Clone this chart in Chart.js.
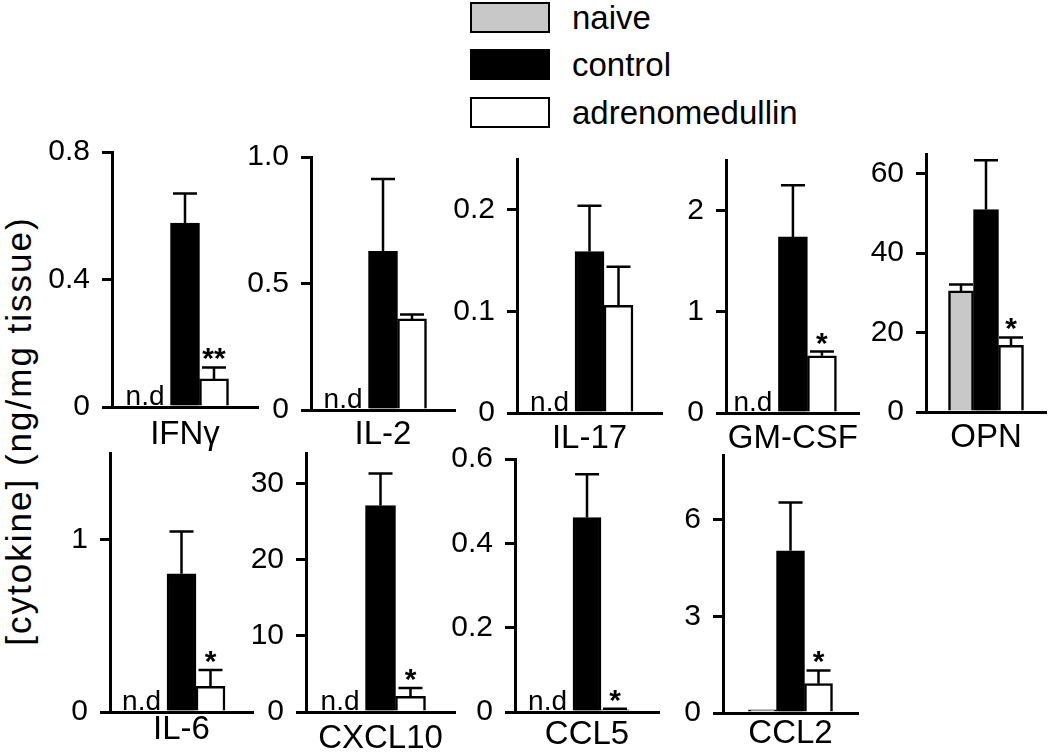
<!DOCTYPE html>
<html>
<head>
<meta charset="utf-8">
<script src="https://cdn.jsdelivr.net/npm/chart.js@4.4.1/dist/chart.umd.min.js"></script>
<style>
  body { margin: 0; background: #fff; width: 1050px; height: 752px; overflow: hidden; position: relative;
         font-family: "Liberation Sans", Arial, sans-serif; color: #000; }
  canvas { position: absolute; }
  .key { position: absolute; left: 470px; width: 80px; height: 31px; box-sizing: border-box; border: 2.5px solid #000; }
  .keytext { position: absolute; left: 572px; font-size: 33px; line-height: 31px; }
  #ytitle { position: absolute; left: 19px; top: 431px; white-space: nowrap; font-size: 35px; letter-spacing: 2px;
            transform: translate(-50%, -50%) rotate(-90deg); }
</style>
</head>
<body>
<div id="legend"></div>
<div id="ytitle">[cytokine] (ng/mg tissue)</div>
<script>
const cytokines = ['IFNγ', 'IL-2', 'IL-17', 'GM-CSF', 'OPN', 'IL-6', 'CXCL10', 'CCL5', 'CCL2'];
const groups = ['naive', 'control', 'adrenomedullin'];
const groupColors = ['#c8c8c8', '#000000', '#ffffff'];

// means and SEM (null = not detected)
const naive = [null, null, null, null, 30.5, null, null, null, 0.1];
const naiveSem = [null, null, null, null, 1.6, null, null, null, 0];
const control = [0.577, 0.627, 0.159, 1.74, 51, 0.80, 27.1, 0.461, 5.03];
const controlSem = [0.093, 0.286, 0.045, 0.51, 12.4, 0.245, 4.2, 0.103, 1.5];
const adm = [0.088, 0.36, 0.106, 0.565, 16.8, 0.148, 2.06, 0.005, 0.91];
const admSem = [0.036, 0.017, 0.038, 0.042, 2.0, 0.095, 1.09, 0.003, 0.41];
const notDetected = [true, true, true, true, false, true, true, true, false];
const stars = ['**', '', '', '*', '*', '*', '*', '*', '*'];

const yMax = [0.8, 1.0, 0.25, 2.5, 65, 1.5, 34, 0.6, 8];
const yTicks = [[0, 0.4, 0.8], [0, 0.5, 1], [0, 0.1, 0.2], [0, 1, 2], [0, 20, 40, 60],
                [0, 1], [0, 10, 20, 30], [0, 0.2, 0.4, 0.6], [0, 3, 6]];
const yTickLabels = [['0', '0.4', '0.8'], ['0', '0.5', '1.0'], ['0', '0.1', '0.2'], ['0', '1', '2'], ['0', '20', '40', '60'],
                     ['0', '1'], ['0', '10', '20', '30'], ['0', '0.2', '0.4', '0.6'], ['0', '3', '6']];

// panel frames on the page: y axis x, baseline right end, axis top, zero line
const frames = [
  [112, 258, 146, 407], [311, 455, 151, 410], [517, 662, 153, 413], [726, 863, 154, 413], [926, 1046, 148, 412],
  [110, 253, 447, 712], [306, 455, 447, 712], [515, 659, 453, 712], [723, 858, 449, 713]
];
const barWidths = [29, 29, 29, 29, 25, 29, 30, 28, 28];
const labelGaps = [16, 13, 14, 14, 14, 6, 15, 11, 9];

// legend
const legend = document.getElementById('legend');
groups.forEach((g, k) => {
  const top = [2, 49, 97][k];
  const box = document.createElement('div');
  box.className = 'key';
  box.style.top = top + 'px';
  box.style.background = groupColors[k];
  legend.appendChild(box);
  const t = document.createElement('div');
  t.className = 'keytext';
  t.style.top = top + 'px';
  t.textContent = g;
  legend.appendChild(t);
});

// error bars, significance stars and "n.d"
const marks = {
  id: 'marks',
  afterDatasetsDraw(chart, args, opts) {
    const i = opts.index;
    const ctx = chart.ctx;
    const y = chart.scales.y;
    ctx.save();
    ctx.strokeStyle = '#000';
    ctx.fillStyle = '#000';
    ctx.lineWidth = 2.5;
    chart.data.datasets.forEach((ds, d) => {
      const v = ds.data[0];
      const s = ds.sem[0];
      if (v == null || !s) return;
      const bar = chart.getDatasetMeta(d).data[0];
      const top = y.getPixelForValue(v + s);
      ctx.beginPath();
      ctx.moveTo(bar.x, bar.y);
      ctx.lineTo(bar.x, top);
      ctx.moveTo(bar.x - 12, top);
      ctx.lineTo(bar.x + 12, top);
      ctx.stroke();
    });
    if (stars[i]) {
      const bar = chart.getDatasetMeta(2).data[0];
      const top = y.getPixelForValue(adm[i] + admSem[i]);
      ctx.font = 'bold 30px "Liberation Sans", Arial, sans-serif';
      ctx.textAlign = 'center';
      ctx.textBaseline = 'alphabetic';
      ctx.fillText(stars[i], bar.x, top + 1);
    }
    if (notDetected[i]) {
      const bar = chart.getDatasetMeta(1).data[0];
      ctx.font = '28px "Liberation Sans", Arial, sans-serif';
      ctx.textAlign = 'right';
      ctx.textBaseline = 'alphabetic';
      ctx.fillText('n.d', bar.x - bar.width / 2 - 6, y.getPixelForValue(0) - 2);
    }
    ctx.restore();
  }
};

Chart.defaults.font.family = '"Liberation Sans", Arial, sans-serif';
Chart.defaults.color = '#000';

const WY = 100, PT = 24, HX = 56, PR = 2;
cytokines.forEach((name, i) => {
  const [ax, right, top, zero] = frames[i];
  const c = document.createElement('canvas');
  c.width = WY + (right - ax) + PR;
  c.height = PT + (zero - top) + HX;
  c.style.left = (ax - WY) + 'px';
  c.style.top = (top - PT) + 'px';
  document.body.appendChild(c);

  new Chart(c, {
    type: 'bar',
    data: {
      labels: [name],
      datasets: [
        { label: groups[0], data: [naive[i]], sem: [naiveSem[i]], backgroundColor: groupColors[0] },
        { label: groups[1], data: [control[i]], sem: [controlSem[i]], backgroundColor: groupColors[1] },
        { label: groups[2], data: [adm[i]], sem: [admSem[i]], backgroundColor: groupColors[2] }
      ]
    },
    options: {
      responsive: false,
      animation: false,
      devicePixelRatio: 1,
      layout: { padding: { top: PT, right: PR, left: 0, bottom: 0 } },
      datasets: { bar: { barThickness: barWidths[i], borderColor: '#000', borderWidth: 2.5 } },
      plugins: { legend: { display: false }, tooltip: { enabled: false }, marks: { index: i } },
      scales: {
        x: {
          grid: { display: false, drawTicks: false },
          border: { display: true, color: '#000', width: 3 },
          ticks: { color: '#000', font: { size: 33 }, padding: labelGaps[i] - 8 },
          afterFit: s => { s.height = HX; }
        },
        y: {
          min: 0,
          max: yMax[i],
          grid: { drawOnChartArea: false, color: '#000', lineWidth: 3, tickLength: 10 },
          border: { color: '#000', width: 3 },
          ticks: { color: '#000', font: { size: 30 }, padding: 12, autoSkip: false,
                   callback: (v, k) => yTickLabels[i][k] },
          afterBuildTicks: s => { s.ticks = yTicks[i].map(v => ({ value: v })); },
          afterFit: s => { s.width = WY; }
        }
      }
    },
    plugins: [marks]
  });
});
</script>
</body>
</html>
